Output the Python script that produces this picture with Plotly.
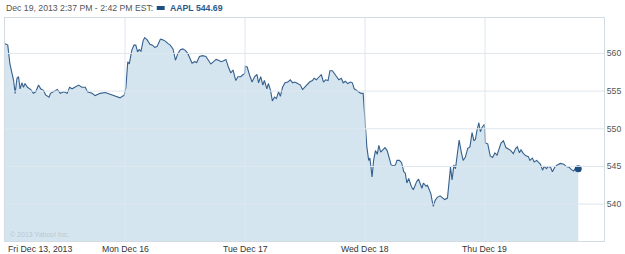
import plotly.graph_objects as go

# ---- data (minutes after 9:30 open, price) ----
day_labels = ["Fri Dec 13, 2013", "Mon Dec 16", "Tue Dec 17", "Wed Dec 18", "Thu Dec 19"]
y_ticks = [540, 545, 550, 555, 560]

fri_min = [0, 9, 16, 23, 28, 33, 39, 44, 49, 55, 60, 65, 73, 84, 92, 100, 109, 116, 125, 132, 143, 148,
           159, 170, 180, 191, 202, 210, 218, 229, 239, 250, 261, 268, 283, 293, 309, 326, 342, 358, 374, 381, 387]
fri_px = [561.3, 561.1, 558.6, 557.1, 556.4, 554.7, 556.7, 556.9, 555.3, 556.1, 555.5, 556.0, 555.5, 555.2,
          554.7, 554.9, 555.8, 555.3, 555.1, 554.5, 554.2, 554.7, 554.9, 555.2, 554.7, 554.9, 554.7, 555.5,
          555.3, 555.6, 555.8, 555.5, 555.5, 554.9, 554.7, 554.4, 554.7, 554.8, 554.6, 554.3, 554.1, 554.3, 554.4]

mon_min = [3, 9, 14, 22, 29, 35, 41, 46, 52, 59, 64, 72, 81, 89, 97, 104, 111, 115, 123, 132, 140, 147, 156,
           164, 172, 180, 188, 196, 204, 212, 218, 226, 233, 242, 252, 263, 272, 279, 288, 296, 304, 312, 319,
           328, 336, 344, 351, 360, 367, 376, 384, 389]
mon_px = [555.5, 558.9, 558.6, 560.4, 561.1, 561.1, 560.2, 560.5, 560.3, 561.7, 562.1, 561.8, 561.2, 561.1,
          560.8, 560.9, 561.5, 561.9, 561.8, 561.6, 561.3, 561.1, 560.6, 559.1, 560.0, 560.5, 560.6, 560.4,
          560.0, 559.3, 558.7, 558.9, 558.8, 559.6, 559.7, 559.6, 559.1, 558.6, 558.9, 559.2, 559.1, 558.9,
          559.0, 559.2, 558.2, 557.4, 557.8, 556.4, 556.9, 556.9, 557.2, 557.3]

tue_min = [1, 7, 15, 23, 31, 39, 44, 51, 58, 63, 71, 76, 83, 89, 96, 102, 109, 115, 122, 130, 139, 147, 155,
           162, 171, 180, 187, 194, 203, 210, 219, 225, 232, 241, 248, 255, 262, 270, 276, 284, 291, 297, 305,
           313, 319, 326, 334, 343, 349, 355, 362, 370, 377, 384]
tue_px = [558.3, 558.2, 557.1, 556.2, 556.9, 557.2, 556.1, 556.9, 555.8, 556.4, 555.3, 556.0, 555.1, 553.7,
          554.2, 554.0, 554.9, 554.3, 555.5, 556.1, 556.2, 556.5, 556.1, 556.2, 556.0, 555.8, 555.2, 555.5,
          556.0, 556.2, 556.4, 556.7, 556.5, 556.9, 557.2, 556.2, 556.5, 556.4, 557.7, 557.7, 557.3, 556.9,
          556.5, 556.7, 556.1, 556.3, 556.0, 556.2, 556.1, 555.3, 555.1, 554.9, 554.7, 554.7]

wed_min = [1, 6, 12, 16, 23, 28, 34, 40, 45, 51, 58, 65, 72, 80, 85, 93, 99, 104, 112, 119, 126, 131, 136,
           142, 147, 151, 157, 162, 168, 174, 180, 185, 190, 198, 203, 209, 214, 218, 222, 228, 235, 244, 251,
           259, 268, 274, 278, 283, 289, 294, 300, 306, 313, 319, 326, 334, 341, 348, 354, 359, 364, 370, 375,
           381, 388]
wed_px = [549.6, 547.6, 545.8, 546.1, 543.6, 545.8, 547.1, 546.6, 547.8, 546.9, 547.2, 547.5, 547.1, 546.1,
          545.2, 545.1, 545.2, 545.8, 545.8, 545.5, 544.3, 544.1, 542.8, 543.4, 542.8, 542.3, 541.9, 542.5,
          543.0, 543.3, 542.7, 542.1, 542.8, 542.4, 542.5, 541.9, 541.4, 540.5, 539.7, 540.5, 540.9, 541.1,
          540.9, 540.6, 540.8, 543.2, 544.9, 543.2, 545.2, 544.7, 546.7, 548.5, 546.9, 545.8, 546.2, 547.4,
          547.6, 549.5, 548.4, 548.6, 549.8, 550.8, 549.6, 550.2, 550.6]

thu_min = [1, 9, 17, 25, 32, 39, 45, 52, 60, 68, 76, 84, 92, 100, 105, 112, 117, 125, 133, 141, 146, 154,
           160, 168, 175, 180, 187, 192, 200, 205, 213, 219, 227, 235, 245, 256, 264, 273, 280, 288, 294, 303]
thu_px = [548.1, 548.0, 546.4, 546.2, 546.8, 546.5, 547.2, 548.1, 548.4, 547.5, 547.3, 547.1, 546.7, 547.4,
          547.6, 546.8, 547.2, 546.7, 546.4, 546.3, 545.8, 546.1, 545.6, 545.8, 545.5, 545.3, 544.5, 545.0,
          544.7, 545.0, 544.9, 544.3, 544.9, 545.2, 545.4, 545.3, 545.0, 544.9, 544.6, 544.4, 544.7, 544.69]

SESSION = 390
sessions = [(fri_min, fri_px), (mon_min, mon_px), (tue_min, tue_px), (wed_min, wed_px), (thu_min, thu_px)]
xs, ys = [], []
for i, (mins, prices) in enumerate(sessions):
    xs += [i + m / SESSION for m in mins]
    ys += prices

LINE = "#35608d"
FILL = "#d5e5f0"
GRID = "#dfe7ee"
BORDER = "#d3dbe2"

fig = go.Figure()
fig.add_trace(go.Scatter(x=xs, y=ys, mode="lines", line=dict(color=LINE, width=1.1),
                         fill="tozeroy", fillcolor=FILL, hoverinfo="skip"))
fig.add_trace(go.Scatter(x=[xs[-1]], y=[ys[-1]], mode="markers",
                         marker=dict(color="#1f4f80", size=7), hoverinfo="skip"))

shapes = []
for v in y_ticks:
    shapes.append(dict(type="line", xref="paper", x0=0, x1=1, yref="y", y0=v, y1=v,
                       line=dict(color=GRID, width=1), layer="above"))
for i in range(1, len(day_labels)):
    shapes.append(dict(type="line", xref="x", x0=i, x1=i, yref="paper", y0=0, y1=1,
                       line=dict(color=GRID, width=1), layer="above"))
# legend swatch in header
shapes.append(dict(type="rect", xref="paper", yref="paper", x0=(157 - 4) / 604, x1=(165 - 4) / 604,
                   y0=1 + (18 - 10) / 223, y1=1 + (18 - 6) / 223,
                   fillcolor="#1f4f80", line=dict(width=0), layer="above"))

ann = []
for i, lab in enumerate(day_labels):
    ann.append(dict(x=i, xref="x", y=0, yref="paper", yanchor="top", yshift=-1,
                    xanchor="left" if i == 0 else "center", xshift=1 if i == 0 else 0,
                    text=lab, showarrow=False,
                    font=dict(family="Liberation Sans, Arial", size=8.7, color="#333333")))
ann.append(dict(x=0, xref="paper", y=1 + (18 - 8.5) / 223, yref="paper", xanchor="left", yanchor="middle",
                text="Dec 19, 2013 2:37 PM - 2:42 PM EST:", showarrow=False, xshift=-1,
                font=dict(family="Liberation Sans, Arial", size=8.7, color="#555555")))
ann.append(dict(x=(168 - 4) / 604, xref="paper", y=1 + (18 - 8.5) / 223, yref="paper", xanchor="left",
                yanchor="middle", text="<b>AAPL 544.69</b>", showarrow=False,
                font=dict(family="Liberation Sans, Arial", size=8.7, color="#2a5a8c")))
ann.append(dict(x=0, xref="paper", y=0, yref="paper", xanchor="left", yanchor="bottom", xshift=3, yshift=1,
                text="© 2013 Yahoo! Inc.", showarrow=False,
                font=dict(family="Liberation Sans, Arial", size=7, color="#b9c7d3")))

fig.update_layout(
    width=625, height=254,
    margin=dict(l=4, r=17, t=18, b=13),
    paper_bgcolor="white", plot_bgcolor="white",
    showlegend=False,
    shapes=shapes, annotations=ann,
    xaxis=dict(range=[0, 604 / 121], showgrid=False, zeroline=False, showticklabels=False, ticks="",
               showline=True, mirror=True, linecolor=BORDER, linewidth=1, fixedrange=True),
    yaxis=dict(range=[535.1, 564.7], side="right", tickvals=y_ticks, showgrid=False, zeroline=False,
               ticks="", showline=True, mirror=True, linecolor=BORDER, linewidth=1,
               tickfont=dict(family="Liberation Sans, Arial", size=8.7, color="#555555"), fixedrange=True),
)

fig.write_html("out.html")
